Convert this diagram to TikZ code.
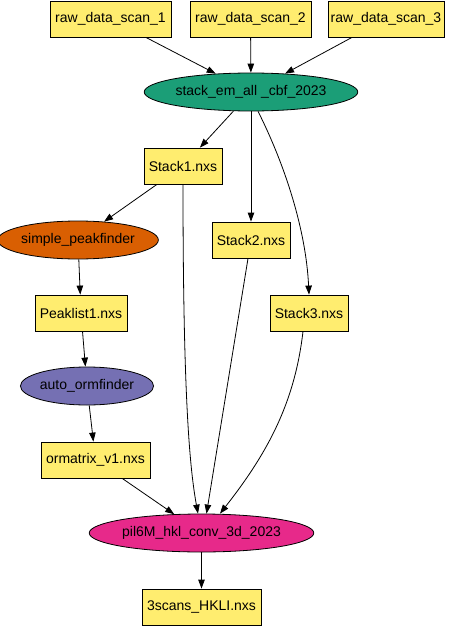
\documentclass[tikz,border=0pt]{standalone}
\usepackage{fontspec}
\setmainfont{Liberation Sans}
\usepackage{tikz}
\usetikzlibrary{arrows.meta,shapes.geometric}

\definecolor{fileyellow}{HTML}{FFED6F}
\definecolor{stackgreen}{HTML}{1B9E77}
\definecolor{peakorange}{HTML}{D95F02}
\definecolor{ormpurple}{HTML}{7570B3}
\definecolor{hklpink}{HTML}{E7298A}

\begin{document}
\begin{tikzpicture}[
      x=1pt, y=-1pt,
      font=\fontsize{14}{16}\selectfont,
      datafile/.style={
          rectangle,
          draw,
          line width=0.8pt,
          fill=fileyellow,
          inner xsep=2pt,
          minimum height=36pt
        },
      process/.style={
          ellipse,
          draw,
          line width=0.8pt,
          inner sep=0pt,
          minimum height=38pt
        },
      arrow/.style={-{Triangle[length=9pt, width=6.5pt]}, line width=0.8pt}
    ]
    \useasboundingbox (0,0) rectangle (450,626);

    \node[datafile, minimum width=121pt] (raw1) at (110.5,19) {raw\_data\_scan\_1};
    \node[datafile, minimum width=121pt] (raw2) at (250.5,19) {raw\_data\_scan\_2};
    \node[datafile, minimum width=116pt] (raw3) at (386,19) {raw\_data\_scan\_3};

    \node[process, fill=stackgreen, minimum width=201pt] (stackall) at (251,92) {stack\_em\_all \_cbf\_2023};
    \draw[arrow] (raw1) -- (stackall);
    \draw[arrow] (raw2) -- (stackall);
    \draw[arrow] (raw3) -- (stackall);

    \node[datafile, minimum width=78pt] (stack1) at (183,166) {Stack1.nxs};
    \node[datafile, minimum width=78pt] (stack2) at (251,240) {Stack2.nxs};
    \node[datafile, minimum width=78pt] (stack3) at (309,313) {Stack3.nxs};
    \draw[arrow] (stackall) -- (stack1);
    \draw[arrow] (stackall) -- (stack2);
    \draw[arrow] (stackall.-70) .. controls (285,165) and (306,230) .. (stack3.north);

    \node[process, fill=peakorange, minimum width=154pt] (peakfind) at (78,240) {simple\_peakfinder};
    \draw[arrow] (stack1) -- (peakfind);

    \node[datafile, minimum width=92pt] (peaklist) at (81,313) {Peaklist1.nxs};
    \draw[arrow] (peakfind) -- (peaklist);

    \node[process, fill=ormpurple, minimum width=131pt] (ormfind) at (87,386) {auto\_ormfinder};
    \draw[arrow] (peaklist) -- (ormfind);

    \node[datafile, minimum width=109pt] (ormatrix) at (95.5,460) {ormatrix\_v1.nxs};
    \draw[arrow] (ormfind) -- (ormatrix);

    \node[process, fill=hklpink, minimum width=211pt] (hklconv) at (201.5,533) {pil6M\_hkl\_conv\_3d\_2023};
    \draw[arrow] (ormatrix) -- (hklconv);
    \draw[arrow] (stack1.south) .. controls (183,400) and (190,470) .. ([xshift=-3.5pt]hklconv.north);
    \draw[arrow] (stack2) -- ([xshift=5pt]hklconv.north);
    \draw[arrow] ([xshift=-6pt]stack3.south) .. controls (295,400) and (270,450) .. ([xshift=18.5pt]hklconv.north);

    \node[datafile, minimum width=119pt] (hklfile) at (201.5,607) {3scans\_HKLI.nxs};
    \draw[arrow] (hklconv) -- (hklfile);
  \end{tikzpicture}
\end{document}
